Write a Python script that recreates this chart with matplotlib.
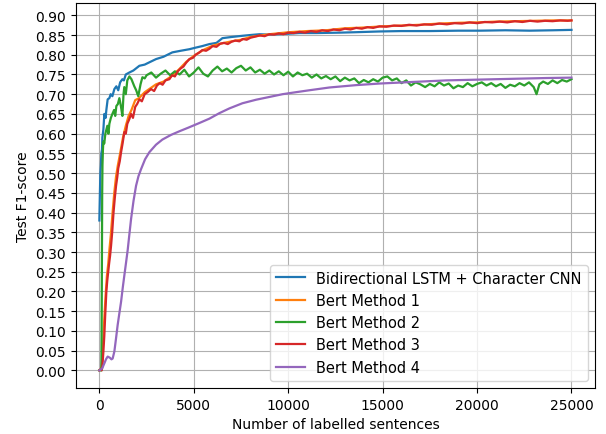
import matplotlib
matplotlib.use("Agg")
import matplotlib.pyplot as plt
import numpy as np

labels = ["Bidirectional LSTM + Character CNN", "Bert Method 1", "Bert Method 2",
          "Bert Method 3", "Bert Method 4"]

blue_x = [0, 30, 53, 80, 106, 140, 159, 212, 265, 330, 370, 440, 530, 600, 690, 795, 900, 1000,
          1100, 1218, 1300, 1400, 1589, 1800, 2119, 2400, 2700, 3003, 3400, 3866, 4300, 4767,
          5100, 5455, 5826, 6200, 6515, 7000, 7574, 8000, 8475, 9000, 9905, 10593, 11500,
          12712, 13500, 14831, 16000, 17479, 19000, 20127, 21500, 22775, 24000, 25000]
blue_y = [0.38, 0.45, 0.50, 0.52, 0.55, 0.56, 0.59, 0.61, 0.65, 0.64, 0.66, 0.687, 0.69, 0.70,
          0.695, 0.713, 0.72, 0.71, 0.73, 0.738, 0.735, 0.75, 0.755, 0.76, 0.772, 0.775, 0.782,
          0.789, 0.795, 0.806, 0.81, 0.814, 0.818, 0.822, 0.827, 0.83, 0.842, 0.845, 0.848,
          0.85, 0.852, 0.851, 0.853, 0.855, 0.855, 0.856, 0.857, 0.859, 0.86, 0.86, 0.861,
          0.861, 0.862, 0.861, 0.862, 0.863]

orange_x = [0, 80, 140, 200, 260, 330, 400, 470, 540, 610, 700, 790, 880, 980, 1100, 1250,
            1400, 1550, 1700, 1900, 2100, 2400, 2700, 3000, 3400, 3800, 4200, 4600, 5000,
            5500, 6000, 6500, 7000, 7500, 8000, 9000, 10000, 11000, 12000, 13000, 14000,
            15000, 16000, 17000, 18000, 19000, 20000, 21000, 22000, 23000, 24000, 25000]
orange_y = [0.0, 0.002, 0.02, 0.07, 0.13, 0.19, 0.24, 0.27, 0.31, 0.345, 0.40, 0.45, 0.49,
            0.52, 0.55, 0.59, 0.62, 0.645, 0.66, 0.685, 0.69, 0.705, 0.715, 0.725, 0.732,
            0.745, 0.762, 0.782, 0.797, 0.812, 0.823, 0.829, 0.834, 0.838, 0.845, 0.852,
            0.857, 0.860, 0.862, 0.867, 0.869, 0.872, 0.874, 0.876, 0.879, 0.881, 0.882,
            0.884, 0.885, 0.886, 0.887, 0.887]

green_x = [0, 60, 106, 120, 135, 150, 165, 190, 212, 260, 318, 370, 424, 480, 530, 610, 690,
           780, 840, 900, 980, 1060, 1140, 1220, 1280, 1320, 1400, 1480, 1590, 1700, 1850,
           1950, 2060, 2180, 2280, 2400,
           2500, 2750, 3000, 3250, 3500, 3750, 4000, 4250, 4500, 4750,
           5000, 5250, 5500, 5750, 6000, 6250, 6500, 6750, 7000, 7250,
           7500, 7750, 8000, 8250, 8500, 8750, 9000, 9250, 9500, 9750,
           10000, 10250, 10500, 10750, 11000, 11250, 11500, 11750, 12000, 12250,
           12500, 12750, 13000, 13250, 13500, 13750, 14000, 14250, 14500, 14750,
           15000, 15250, 15500, 15750, 16000, 16250, 16500, 16750, 17000, 17250,
           17500, 17750, 18000, 18250, 18500, 18750, 19000, 19250, 19500, 19750,
           20000, 20250, 20500, 20750, 21000, 21250, 21500, 21750, 22000, 22250,
           22500, 22750, 23000, 23150, 23300, 23500, 23750, 24000, 24250, 24500,
           24750, 25000]
green_y = [0.0, 0.0, 0.0, 0.10, 0.30, 0.45, 0.52, 0.56, 0.58, 0.575, 0.60, 0.61, 0.62, 0.60,
           0.625, 0.64, 0.65, 0.66, 0.645, 0.67, 0.675, 0.69, 0.67, 0.645, 0.70, 0.718, 0.70,
           0.735, 0.745, 0.738, 0.72, 0.71, 0.695, 0.725, 0.743, 0.74,
           0.748, 0.755, 0.742, 0.752, 0.760, 0.748, 0.758, 0.750, 0.762, 0.745,
           0.755, 0.768, 0.752, 0.745, 0.760, 0.770, 0.758, 0.765, 0.755, 0.766,
           0.772, 0.760, 0.768, 0.755, 0.762, 0.752, 0.760, 0.750, 0.758, 0.748,
           0.757, 0.745, 0.755, 0.748, 0.752, 0.742, 0.750, 0.740, 0.746, 0.738,
           0.745, 0.733, 0.742, 0.735, 0.740, 0.728, 0.736, 0.730, 0.738, 0.732,
           0.742, 0.745, 0.735, 0.740, 0.728, 0.735, 0.722, 0.730, 0.725, 0.718,
           0.726, 0.720, 0.730, 0.722, 0.727, 0.715, 0.722, 0.718, 0.728, 0.720,
           0.726, 0.730, 0.722, 0.728, 0.720, 0.726, 0.716, 0.724, 0.720, 0.728,
           0.722, 0.730, 0.718, 0.700, 0.725, 0.732, 0.726, 0.735, 0.728, 0.736,
           0.732, 0.738]

red_x = [0, 60, 120, 159, 210, 260, 310, 371, 420, 470,
         520, 567, 620, 680, 750, 820, 885, 950, 1000, 1080,
         1150, 1230, 1324, 1400, 1480, 1589, 1680, 1780, 1900, 2000,
         2119, 2250, 2400, 2550, 2738, 2900, 3050, 3200, 3350, 3500,
         3708, 3850, 4000, 4150, 4300, 4450, 4600, 4767, 4950, 5100,
         5300, 5455, 5650, 5826, 6000, 6200, 6400, 6600, 6800, 7000,
         7200, 7415, 7600, 7800, 8000, 8250, 8500, 8750, 9004, 9250,
         9500, 9750, 10000, 10300, 10593, 10900, 11200, 11500, 11800, 12100,
         12400, 12712, 13000, 13300, 13600, 13900, 14200, 14500, 14831, 15200,
         15600, 16000, 16400, 16800, 17200, 17600, 18000, 18400, 18800, 19200,
         19600, 20000, 20400, 20800, 21200, 21600, 22000, 22400, 22800, 23200,
         23600, 24000, 24400, 24800, 25000]
red_y = [0.000, 0.003, 0.000, 0.010, 0.045, 0.085, 0.140, 0.200, 0.228, 0.250,
         0.272, 0.290, 0.316, 0.350, 0.400, 0.438, 0.468, 0.490, 0.512, 0.530,
         0.553, 0.575, 0.604, 0.600, 0.625, 0.637, 0.650, 0.640, 0.668, 0.675,
         0.687, 0.682, 0.700, 0.705, 0.713, 0.708, 0.722, 0.728, 0.724, 0.735,
         0.738, 0.748, 0.745, 0.758, 0.765, 0.770, 0.780, 0.789, 0.792, 0.800,
         0.806, 0.812, 0.810, 0.815, 0.822, 0.820, 0.828, 0.830, 0.827, 0.833,
         0.836, 0.834, 0.840, 0.838, 0.843, 0.846, 0.849, 0.847, 0.852, 0.851,
         0.854, 0.852, 0.856, 0.855, 0.858, 0.856, 0.860, 0.858, 0.862, 0.860,
         0.864, 0.862, 0.866, 0.864, 0.868, 0.866, 0.870, 0.868, 0.872, 0.871,
         0.874, 0.873, 0.876, 0.874, 0.877, 0.876, 0.879, 0.877, 0.880, 0.879,
         0.882, 0.880, 0.883, 0.882, 0.884, 0.882, 0.885, 0.883, 0.886, 0.884,
         0.886, 0.885, 0.887, 0.886, 0.887]

purple_x = [0, 150, 265, 350, 440, 560, 640, 704, 795, 880, 969, 1060, 1150, 1240, 1324,
            1410, 1500, 1590, 1680, 1810, 1944, 2070, 2208, 2420, 2648, 3000, 3337, 3800,
            4237, 4700, 5297, 5826, 6356, 6886, 7574, 8300, 9004, 9700, 10400, 11123,
            12182, 13596, 14831, 16578, 18379, 20127, 21875, 23676, 25000]
purple_y = [0.0, 0.005, 0.018, 0.028, 0.035, 0.032, 0.028, 0.030, 0.048, 0.08, 0.115, 0.145,
            0.174, 0.21, 0.241, 0.272, 0.305, 0.345, 0.384, 0.43, 0.468, 0.492, 0.51, 0.535,
            0.553, 0.572, 0.585, 0.597, 0.606, 0.615, 0.627, 0.638, 0.652, 0.664, 0.677,
            0.686, 0.693, 0.700, 0.705, 0.710, 0.717, 0.723, 0.727, 0.731, 0.735, 0.737,
            0.739, 0.741, 0.742]

yticks = [round(0.05 * i, 2) for i in range(19)]

fig = plt.figure(figsize=(6.06, 4.35), dpi=100)
ax = fig.add_axes([0.125, 0.106, 0.857, 0.885])
series = [(blue_x, blue_y), (orange_x, orange_y), (green_x, green_y), (red_x, red_y),
          (purple_x, purple_y)]
for (xs, ys), lab in zip(series, labels):
    ax.plot(xs, ys, label=lab, linewidth=1.6)

ax.set_yticks(yticks)
ax.set_yticklabels([f"{t:.2f}" for t in yticks])
ax.set_xticks([0, 5000, 10000, 15000, 20000, 25000])
ax.grid(True)
ax.set_xlabel("Number of labelled sentences")
ax.set_ylabel("Test F1-score")
ax.legend(loc="lower right", fontsize=10.5)
fig.savefig("out.png", dpi=100)
